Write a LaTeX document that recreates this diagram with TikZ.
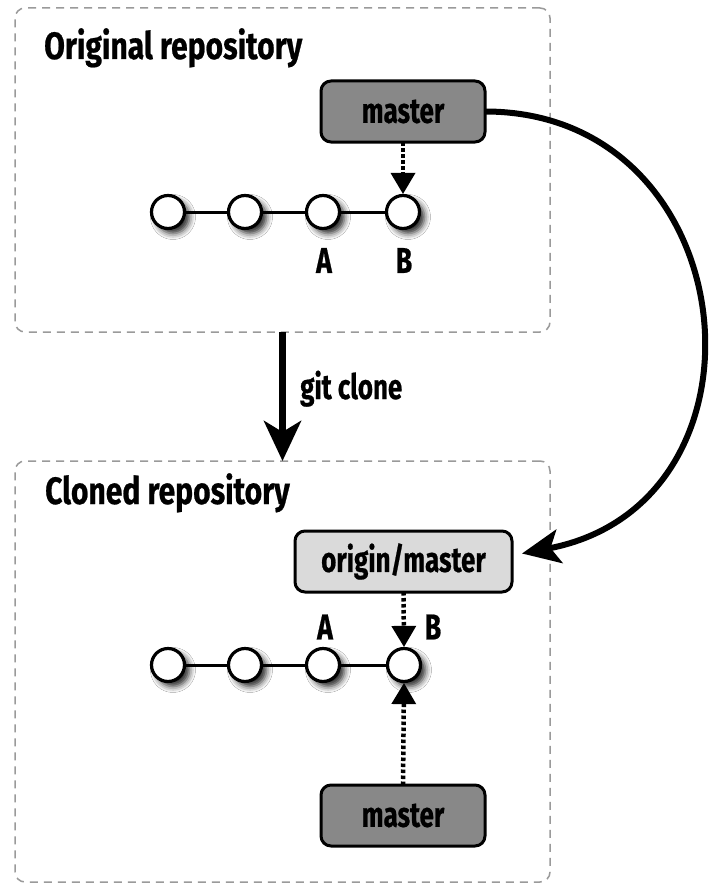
\documentclass[tikz,border=0pt]{standalone}
\usepackage{fontspec}
\setmainfont{Fira Sans}[FakeStretch=0.74, FakeBold=0.6]
\newfontfamily\titlefont{Fira Sans}[FakeStretch=0.79, FakeBold=0.6]
\usetikzlibrary{arrows.meta,shadows.blur}
\definecolor{darkfill}{HTML}{888888}
\definecolor{lightfill}{HTML}{DADADA}
\definecolor{repoedge}{HTML}{9A9A9A}
\begin{document}
\begin{tikzpicture}[x=1pt,y=-1pt,
  lbl/.style={font=\fontsize{36}{40}\selectfont\bfseries, inner sep=0pt},
  ttl/.style={font=\titlefont\fontsize{38}{44}\selectfont\bfseries, inner sep=0pt},
  repo/.style={draw=repoedge, line width=1.5pt, dash pattern=on 8pt off 6pt, rounded corners=10pt, inner sep=0pt, outer sep=0pt},
  refbox/.style={draw=black, line width=3pt, rounded corners=10pt, minimum height=61pt, inner sep=0pt, outer sep=0pt, font=\fontsize{35}{40}\selectfont\bfseries},
  commit/.style={circle, draw=black, fill=white, line width=3.2pt, minimum size=33pt, inner sep=0pt,
    blur shadow={shadow xshift=5pt, shadow yshift=-5pt, shadow blur radius=6pt, shadow opacity=85}},
  commitline/.style={line width=3pt},
  refarrow/.style={line width=4.5pt, dash pattern=on 3.5pt off 2.5pt, -{Triangle[length=21pt,width=25pt,line width=0pt]}},
  bigarrow/.style={line width=7pt, -{Stealth[length=40pt,width=37pt,inset=11pt]}},
  curvearrow/.style={line width=6pt, -{Stealth[length=38pt,width=34pt,inset=9pt]}}
]
\useasboundingbox (0,0) rectangle (710,888);
\fill[white] (0,0) rectangle (710,888);
% repositories
\node[repo, minimum width=535pt, minimum height=324pt] (orig) at (282.5,170) {};
\node[repo, minimum width=535pt, minimum height=421pt] (clone) at (282.5,671.5) {};
\node[ttl, anchor=base west] (origt) at (44,59) {Original repository};
\node[ttl, anchor=base west] (clonet) at (45,504) {Cloned repository};
% original repository
\node[refbox, fill=darkfill, minimum width=164pt] (m1) at (403,111.5) {master};
\node[commit] (a1) at (168,212) {};
\node[commit] (a2) at (245,212) {};
\node[commit] (a3) at (323,212) {};
\node[commit] (a4) at (403,212) {};
\draw[commitline] (a1) -- (a2) (a2) -- (a3) (a3) -- (a4);
\node[lbl] (la1) at (324,260.5) {A};
\node[lbl] (lb1) at (404,260.5) {B};
\draw[refarrow] (m1.south) -- (a4.north);
% clone arrow
\draw[bigarrow] (orig.south) -- (clone.north);
\node[lbl, font=\fontsize{35}{40}\selectfont\bfseries, anchor=base west] (gc) at (300,399) {git clone};
% cloned repository
\node[refbox, fill=lightfill, minimum width=217pt] (om) at (403.5,561.5) {origin/master};
\node[commit] (b1) at (168,665) {};
\node[commit] (b2) at (245,665) {};
\node[commit] (b3) at (323,665) {};
\node[commit] (b4) at (404,665) {};
\draw[commitline] (b1) -- (b2) (b2) -- (b3) (b3) -- (b4);
\node[lbl] (la2) at (325,627) {A};
\node[lbl] (lb2) at (433,627) {B};
\node[refbox, fill=darkfill, minimum width=164pt] (m2) at (403,815.5) {master};
\draw[refarrow] (om.south) -- (b4.north);
\draw[refarrow] (m2.north) -- (b4.south);
% curved arrow
\coordinate (tipc) at ([xshift=10pt,yshift=8pt]om.east);
\draw[curvearrow] (m1.east) .. controls +(262,0) and +(262,-50) .. (tipc);
\end{tikzpicture}
\end{document}
